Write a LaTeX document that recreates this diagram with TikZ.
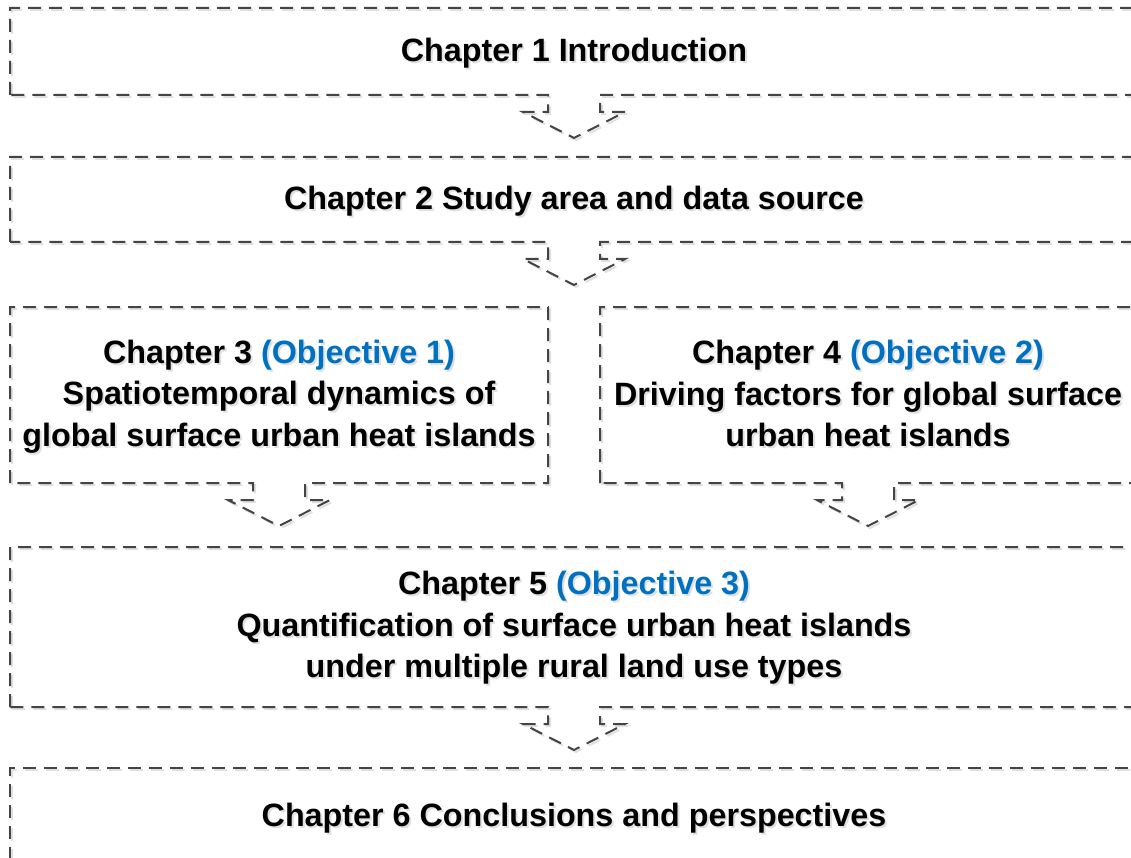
\documentclass[tikz,border=0pt]{standalone}
\usepackage{fontspec}
\setmainfont{Liberation Sans}
\usetikzlibrary{calc}
\definecolor{edge}{HTML}{444444}
\definecolor{shade}{HTML}{E0E0E0}
\definecolor{objblue}{HTML}{0070C0}
\def\obcol{objblue}
\newcommand{\ob}[1]{\textcolor{\obcol}{#1}}
% outline of a box whose bottom edge opens into a hollow down arrow
\newcommand{\arrowboxpath}[1]{(#1.south west) -- (#1.north west) -- (#1.north east) -- (#1.south east)
  -- ($(#1.south)+(26,0)$) -- ++(0,17) -- ++(25,0) -- ($(#1.south)+(0,43)$)
  -- ($(#1.south)+(-51,17)$) -- ++(25,0) -- ++(0,-17) -- cycle}
\newcommand{\plainboxpath}[1]{(#1.south west) -- (#1.north west) -- (#1.north east) -- (#1.south east) -- cycle}
\newcommand{\boxtext}[3]{%
  \begin{scope}[transform canvas={shift={(2pt,-2pt)}}]
    \node[txt, text=shade] (#1s) at #2 {\def\obcol{shade}#3};
  \end{scope}
  \node[txt] (#1) at #2 {#3};}
\begin{document}
\begin{tikzpicture}[x=1pt,y=-1pt,
  frame/.style={draw=none, inner sep=0pt, outer sep=0pt},
  dashline/.style={line width=2pt, dash pattern=on 13pt off 8pt},
  edgeline/.style={dashline, draw=edge},
  shadeline/.style={dashline, draw=shade},
  txt/.style={font=\fontsize{32.3}{41.5}\selectfont\bfseries, align=center, inner sep=0pt},
]
\useasboundingbox (0,0) rectangle (1131,858);
\clip (0,0) rectangle (1131,858);
% box frames
\node[frame, minimum width=1128pt, minimum height=87pt] (b1) at (574,51.5) {};
\node[frame, minimum width=1128pt, minimum height=85pt] (b2) at (574,199.5) {};
\node[frame, minimum width=538pt, minimum height=176pt] (b3) at (279,395) {};
\node[frame, minimum width=536pt, minimum height=176pt] (b4) at (868,395) {};
\node[frame, minimum width=1128pt, minimum height=160pt] (b5) at (574,627) {};
\node[frame, minimum width=1128pt, minimum height=92pt] (b6) at (574,814) {};
% shadows of the outlines
\begin{scope}[transform canvas={shift={(2pt,-2pt)}}]
  \draw[shadeline] \arrowboxpath{b1};
  \draw[shadeline] \arrowboxpath{b2};
  \draw[shadeline] \arrowboxpath{b3};
  \draw[shadeline] \arrowboxpath{b4};
  \draw[shadeline] \arrowboxpath{b5};
  \draw[shadeline] \plainboxpath{b6};
\end{scope}
% outlines
\draw[edgeline] \arrowboxpath{b1};
\draw[edgeline] \arrowboxpath{b2};
\draw[edgeline] \arrowboxpath{b3};
\draw[edgeline] \arrowboxpath{b4};
\draw[edgeline] \arrowboxpath{b5};
\draw[edgeline] \plainboxpath{b6};
% texts
\boxtext{t1}{($(b1.center)+(0,2)$)}{Chapter 1 Introduction}
\boxtext{t2}{($(b2.center)+(0,1.5)$)}{Chapter 2 Study area and data source}
\boxtext{t3}{($(b3.center)+(0,1.5)$)}{Chapter 3 \ob{(Objective 1)}\\Spatiotemporal dynamics of\\global surface urban heat islands}
\boxtext{t4}{($(b4.center)+(0,-1.5)$)}{Chapter 4 \ob{(Objective 2)}\\Driving factors for global surface\\urban heat islands}
\boxtext{t5}{($(b5.center)+(0,1)$)}{Chapter 5 \ob{(Objective 3)}\\Quantification of surface urban heat islands\\under multiple rural land use types}
\boxtext{t6}{($(b6.center)+(0,4)$)}{Chapter 6 Conclusions and perspectives}
\end{tikzpicture}
\end{document}
